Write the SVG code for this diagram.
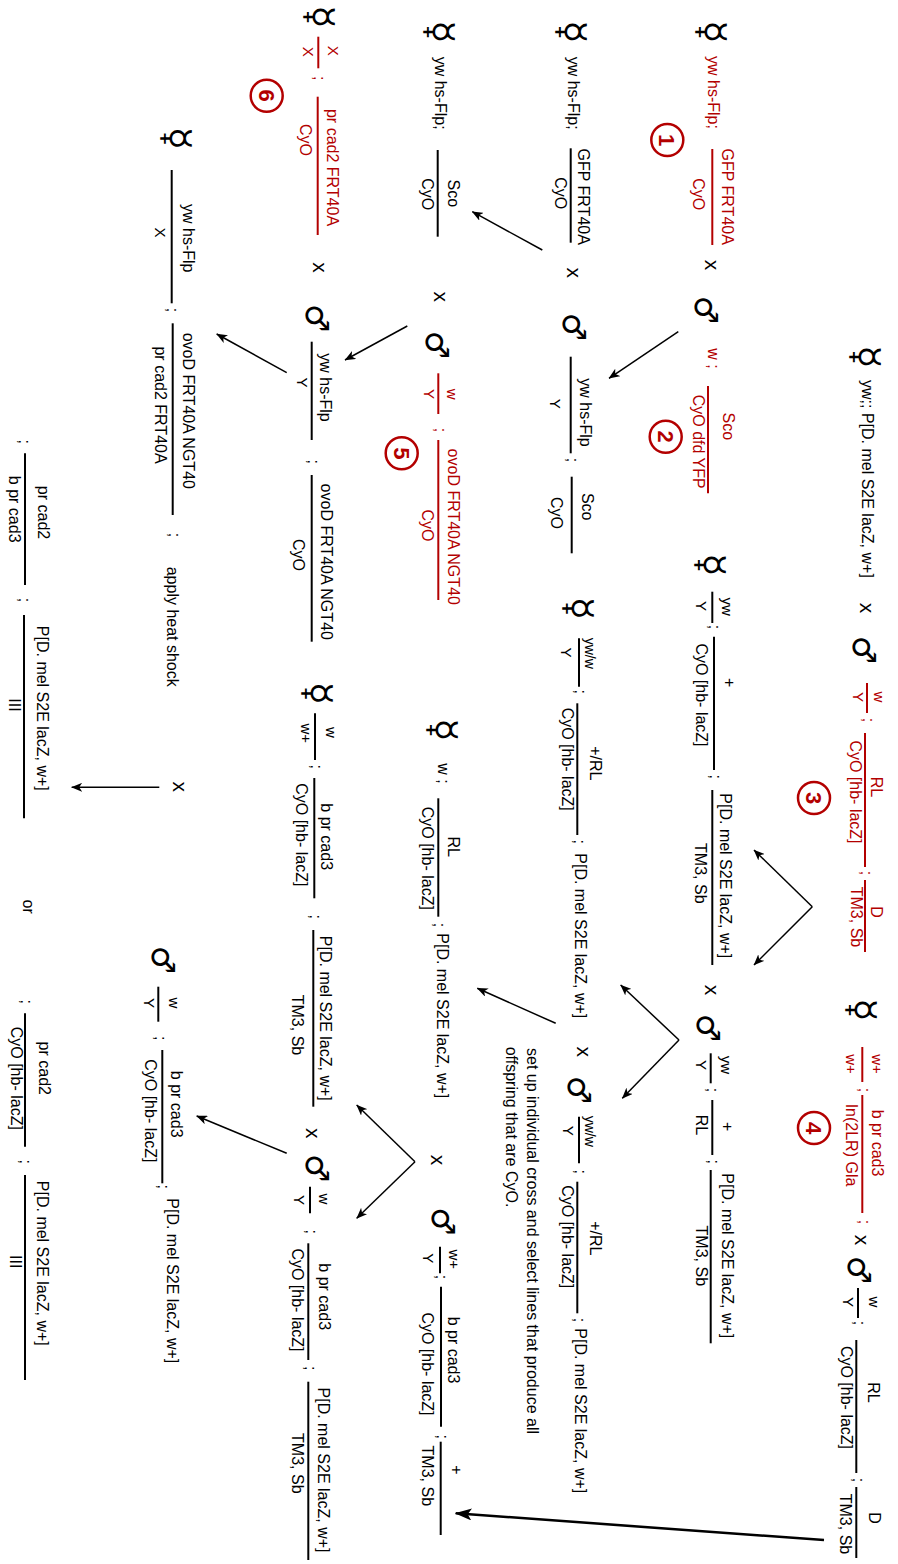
<svg xmlns="http://www.w3.org/2000/svg" width="898" height="1564" viewBox="0 0 898 1564">
<defs>
<style>
text{font-family:"Liberation Sans",Arial,Helvetica,sans-serif;font-size:16px;fill:#000}
.r{fill:#b30000}
.m{text-anchor:middle}
.s{font-size:15px}
.n{font-size:14px}
.x{font-size:21px;text-anchor:middle}
.sy{font-family:"DejaVu Sans",sans-serif;font-size:32px;text-anchor:middle;dominant-baseline:central}
.fe{font-size:38px}
.ln{stroke:#000;stroke-width:2}
.lr{stroke:#b30000;stroke-width:2}
.cr{fill:none;stroke:#b30000;stroke-width:2.5}
.cn{font-size:22px;font-weight:bold;fill:#b30000;text-anchor:middle}
.ar{stroke:#000;stroke-width:1.5;fill:none;marker-end:url(#ah)}
.ab{stroke:#000;stroke-width:2.5;fill:none;marker-end:url(#ahb)}
</style>
<marker id="ah" markerWidth="11" markerHeight="9" refX="10.5" refY="4.5" orient="auto" markerUnits="userSpaceOnUse"><path d="M0,0 L11,4.5 L0,9 L3,4.5 z" fill="#000"/></marker>
<marker id="ahb" markerWidth="17" markerHeight="12" refX="16" refY="6" orient="auto" markerUnits="userSpaceOnUse"><path d="M0,0 L17,6 L0,12 L4,6 z" fill="#000"/></marker>
</defs>
<rect width="898" height="1564" fill="#fff"/>
<g transform="translate(898,0) rotate(90)">

<!-- Row 1 -->
<g id="n1">
<text class="sy fe" x="357" y="32">☿</text>
<text x="380" y="36.5">yw;; P[D. mel S2E lacZ, w+]</text>
</g>
<g id="n2">
<text class="sy" x="650" y="34">♂</text>
<line class="lr" x1="683" y1="31" x2="713" y2="31"/>
<text class="r m s" x="697" y="24">w</text>
<text class="r m s" x="697" y="45">Y</text>
<text class="r m" x="720" y="35">;</text>
<line class="lr" x1="733" y1="33" x2="867" y2="33"/>
<text class="r m" x="787" y="27.5">RL</text>
<text class="r m" x="792" y="48.5">CyO [hb- lacZ]</text>
<text class="r m" x="873" y="37">;</text>
<line class="lr" x1="880" y1="33" x2="952" y2="33"/>
<text class="r m" x="912" y="27.5">D</text>
<text class="r m" x="917" y="47.5">TM3, Sb</text>
<circle class="cr" cx="798" cy="84" r="16"/>
<text class="cn" x="798" y="92">3</text>
</g>
<g id="n3">
<text class="sy fe" x="1010" y="36">☿</text>
<line class="lr" x1="1047" y1="35.7" x2="1082" y2="35.7"/>
<text class="r m s" x="1064" y="26">w+</text>
<text class="r m s" x="1064" y="52">w+</text>
<text class="r m" x="1090" y="39">;</text>
<line class="lr" x1="1095" y1="35.7" x2="1213" y2="35.7"/>
<text class="r m" x="1143" y="26">b pr cad3</text>
<text class="r m" x="1145" y="52.5">In(2LR) Gla</text>
<text class="r m" x="1222" y="39">;</text>
<circle class="cr" cx="1128" cy="84" r="16"/>
<text class="cn" x="1128" y="92">4</text>
</g>
<g id="n4">
<text class="sy" x="1270" y="39">♂</text>
<line class="ln" x1="1288" y1="40" x2="1318" y2="40"/>
<text class="m s" x="1302" y="29">w</text>
<text class="m s" x="1302" y="55">Y</text>
<text class="m" x="1323" y="44">;</text>
<line class="ln" x1="1340" y1="41.7" x2="1473" y2="41.7"/>
<text class="m" x="1392.5" y="30.5">RL</text>
<text class="m" x="1397.5" y="57.5">CyO [hb- lacZ]</text>
<text class="m" x="1480" y="45">;</text>
<line class="ln" x1="1487" y1="41.7" x2="1558" y2="41.7"/>
<text class="m" x="1518" y="29.5">D</text>
<text class="m" x="1524" y="58.5">TM3, Sb</text>
</g>

<!-- Row 2 -->
<g id="n5">
<text class="sy fe" x="32" y="186">☿</text>
<text class="r" x="56" y="190">yw hs-Flp;</text>
<line class="lr" x1="149" y1="185.7" x2="245" y2="185.7"/>
<text class="r m" x="196.7" y="176.5">GFP FRT40A</text>
<text class="r m" x="194.2" y="205.5">CyO</text>
<circle class="cr" cx="140" cy="230.7" r="16"/>
<text class="cn" x="140" y="238.7">1</text>
</g>
<g id="n6">
<text class="sy" x="310" y="192">♂</text>
<text class="r" x="348.3" y="190.5">w ;</text>
<line class="lr" x1="386" y1="190" x2="493.3" y2="190"/>
<text class="r m" x="426.3" y="175.5">Sco</text>
<text class="r m" x="441.7" y="205.5">CyO dfd YFP</text>
<circle class="cr" cx="436.7" cy="232.3" r="16"/>
<text class="cn" x="436.7" y="240.3">2</text>
</g>
<g id="n7">
<text class="sy fe" x="565" y="187">☿</text>
<line class="ln" x1="591.7" y1="185.7" x2="623" y2="185.7"/>
<text class="m s" x="606.7" y="176">yw</text>
<text class="m s" x="606" y="201.7">Y</text>
<text class="m" x="627" y="189">;</text>
<line class="ln" x1="636.7" y1="184" x2="770" y2="184"/>
<text class="m" x="682.7" y="174">+</text>
<text class="m" x="695" y="202.5">CyO [hb- lacZ]</text>
<text class="m" x="776.7" y="188">;</text>
<line class="ln" x1="790" y1="185.7" x2="965" y2="185.7"/>
<text class="m" x="875.8" y="178.5">P[D. mel S2E lacZ, w+]</text>
<text class="m" x="873.3" y="203.5">TM3, Sb</text>
</g>
<g id="n8">
<text class="sy" x="1028" y="190">♂</text>
<line class="ln" x1="1053.3" y1="187.3" x2="1083.3" y2="187.3"/>
<text class="m s" x="1065" y="177">yw</text>
<text class="m s" x="1065" y="202">Y</text>
<text class="m" x="1090" y="191">;</text>
<line class="ln" x1="1100" y1="185.7" x2="1155" y2="185.7"/>
<text class="m" x="1126.7" y="176">+</text>
<text class="m" x="1125" y="202.5">RL</text>
<text class="m" x="1161.7" y="190">;</text>
<line class="ln" x1="1170" y1="187.3" x2="1343.3" y2="187.3"/>
<text class="m" x="1255.8" y="176">P[D. mel S2E lacZ, w+]</text>
<text class="m" x="1255.8" y="202.5">TM3, Sb</text>
</g>

<!-- Row 3 -->
<g id="n9">
<text class="sy fe" x="32" y="326">☿</text>
<text x="56.7" y="330.5">yw hs-Flp;</text>
<line class="ln" x1="148.3" y1="327.3" x2="242.7" y2="327.3"/>
<text class="m" x="196.7" y="320.5">GFP FRT40A</text>
<text class="m" x="193.3" y="343.5">CyO</text>
</g>
<g id="n10">
<text class="sy" x="327" y="324">♂</text>
<line class="ln" x1="356.7" y1="327.3" x2="453.3" y2="327.3"/>
<text class="m" x="412.5" y="318">yw hs-Flp</text>
<text class="m s" x="403.8" y="348">Y</text>
<text class="m" x="460" y="331">;</text>
<line class="ln" x1="476.7" y1="326.3" x2="553.3" y2="326.3"/>
<text class="m" x="506.7" y="316">Sco</text>
<text class="m" x="513" y="347">CyO</text>
</g>
<g id="n11">
<text class="sy fe" x="608.3" y="319">☿</text>
<line class="ln" x1="638.3" y1="319" x2="686.7" y2="319"/>
<text class="m n" x="653.3" y="312.7">yw/w</text>
<text class="m s" x="652.5" y="336.7">Y</text>
<text class="m" x="691.7" y="323">;</text>
<line class="ln" x1="703.3" y1="320.7" x2="835" y2="320.7"/>
<text class="m" x="763.3" y="308">+/RL</text>
<text class="m" x="759.2" y="336.5">CyO [hb- lacZ]</text>
<text class="m" x="841.7" y="324">;</text>
<text x="853.3" y="323.5">P[D. mel S2E lacZ, w+]</text>
</g>
<g id="n12">
<text class="sy" x="1090" y="319">♂</text>
<line class="ln" x1="1116.7" y1="319" x2="1163.3" y2="319"/>
<text class="m n" x="1131.2" y="312.7">yw/w</text>
<text class="m s" x="1130.8" y="335.5">Y</text>
<text class="m" x="1171.7" y="323">;</text>
<line class="ln" x1="1181.7" y1="320.7" x2="1313.3" y2="320.7"/>
<text class="m" x="1238.3" y="308">+/RL</text>
<text class="m" x="1236.7" y="336.5">CyO [hb- lacZ]</text>
<text class="m" x="1320" y="324">;</text>
<text x="1328.3" y="323.5">P[D. mel S2E lacZ, w+]</text>
</g>
<g id="note">
<text x="1048" y="370.8">set up individual cross and select lines that produce all</text>
<text x="1046.7" y="392.4">offspring that are CyO.</text>
</g>

<!-- Row 4 -->
<g id="n13">
<text class="sy fe" x="32" y="458">☿</text>
<text x="56.7" y="463">yw hs-Flp;</text>
<line class="ln" x1="150" y1="460.3" x2="236.7" y2="460.3"/>
<text class="m" x="193.3" y="450">Sco</text>
<text class="m" x="194.2" y="476.5">CyO</text>
</g>
<g id="n14">
<text class="sy" x="345" y="461">♂</text>
<line class="lr" x1="373.3" y1="459.7" x2="414" y2="459.7"/>
<text class="r m s" x="394.2" y="451">w</text>
<text class="r m s" x="394" y="474">Y</text>
<text class="r m" x="430" y="463">;</text>
<line class="lr" x1="440" y1="459.7" x2="600" y2="459.7"/>
<text class="r m" x="526.7" y="450">ovoD FRT40A NGT40</text>
<text class="r m" x="525.5" y="476.5">CyO</text>
<circle class="cr" cx="453.3" cy="496.3" r="16"/>
<text class="cn" x="453.3" y="504.3">5</text>
</g>
<g id="n15">
<text class="sy fe" x="730" y="455">☿</text>
<text x="763.3" y="460">w ;</text>
<line class="ln" x1="798.3" y1="459.7" x2="916.7" y2="459.7"/>
<text class="m" x="846.7" y="450">RL</text>
<text class="m" x="858.3" y="476.5">CyO [hb- lacZ]</text>
<text class="m" x="925" y="464">;</text>
<text x="933.3" y="461.5">P[D. mel S2E lacZ, w+]</text>
</g>
<g id="n16">
<text class="sy" x="1221.7" y="455">♂</text>
<line class="ln" x1="1246.7" y1="458" x2="1273.3" y2="458"/>
<text class="m s" x="1259.2" y="449">w+</text>
<text class="m s" x="1258.3" y="475">Y</text>
<text class="m" x="1277" y="462">;</text>
<line class="ln" x1="1286.7" y1="457" x2="1426.7" y2="457"/>
<text class="m" x="1350" y="450">b pr cad3</text>
<text class="m" x="1364" y="476.5">CyO [hb- lacZ]</text>
<text class="m" x="1436.7" y="461">;</text>
<line class="ln" x1="1441.7" y1="457.3" x2="1535" y2="457.3"/>
<text class="m" x="1470" y="447">+</text>
<text class="m" x="1475.8" y="476.5">TM3, Sb</text>
</g>

<!-- Row 5 -->
<g id="n17">
<text class="sy fe" x="17" y="578">☿</text>
<line class="lr" x1="36.7" y1="579.7" x2="68.3" y2="579.7"/>
<text class="r m s" x="50.8" y="570">X</text>
<text class="r m s" x="51.7" y="595.4">X</text>
<text class="r m" x="78.3" y="584">;</text>
<line class="lr" x1="96.7" y1="580.3" x2="235" y2="580.3"/>
<text class="r m" x="167.5" y="571.5">pr cad2 FRT40A</text>
<text class="r m" x="140" y="597.8">CyO</text>
<circle class="cr" cx="95.7" cy="631.3" r="16"/>
<text class="cn" x="95.7" y="639.3">6</text>
</g>
<g id="n18">
<text class="sy" x="318.3" y="581">♂</text>
<line class="ln" x1="341.7" y1="586.3" x2="440" y2="586.3"/>
<text class="m" x="387.5" y="578">yw hs-Flp</text>
<text class="m s" x="382.5" y="601">Y</text>
<text class="m" x="461.7" y="590">;</text>
<line class="ln" x1="475" y1="586.3" x2="641.7" y2="586.3"/>
<text class="m" x="561.7" y="577">ovoD FRT40A NGT40</text>
<text class="m" x="555" y="605">CyO</text>
</g>
<g id="n19">
<text class="sy fe" x="693.3" y="580">☿</text>
<line class="ln" x1="713.3" y1="583" x2="760" y2="583"/>
<text class="m s" x="732.5" y="572">w</text>
<text class="m s" x="733.3" y="597">w+</text>
<text class="m" x="766.7" y="587">;</text>
<line class="ln" x1="778" y1="583.7" x2="898.3" y2="583.7"/>
<text class="m" x="836.7" y="577.5">b pr cad3</text>
<text class="m" x="834.8" y="602.5">CyO [hb- lacZ]</text>
<text class="m" x="916.7" y="588">;</text>
<line class="ln" x1="930" y1="584.7" x2="1106.7" y2="584.7"/>
<text class="m" x="1018.3" y="578.5">P[D. mel S2E lacZ, w+]</text>
<text class="m" x="1025" y="606">TM3, Sb</text>
</g>
<g id="n20">
<text class="sy" x="1168.3" y="581">♂</text>
<line class="ln" x1="1186.7" y1="588" x2="1213.3" y2="588"/>
<text class="m s" x="1199" y="579">w</text>
<text class="m s" x="1200" y="604.5">Y</text>
<text class="m" x="1231.7" y="592">;</text>
<line class="ln" x1="1243.3" y1="589.7" x2="1360" y2="589.7"/>
<text class="m" x="1296.7" y="579">b pr cad3</text>
<text class="m" x="1300" y="606.2">CyO [hb- lacZ]</text>
<text class="m" x="1368.3" y="593">;</text>
<line class="ln" x1="1381.7" y1="589.7" x2="1560" y2="589.7"/>
<text class="m" x="1470" y="580">P[D. mel S2E lacZ, w+]</text>
<text class="m" x="1463.3" y="606.2">TM3, Sb</text>
</g>

<!-- Row 6 -->
<g id="n21">
<text class="sy fe" x="138.3" y="721">☿</text>
<line class="ln" x1="170" y1="726.3" x2="303.3" y2="726.3"/>
<text class="m" x="238.3" y="715.5">yw hs-Flp</text>
<text class="m s" x="232.5" y="743">X</text>
<text class="m" x="310" y="731">;</text>
<line class="ln" x1="323.3" y1="725.3" x2="515" y2="725.3"/>
<text class="m" x="410.8" y="715.5">ovoD FRT40A NGT40</text>
<text class="m" x="405" y="742.8">pr cad2 FRT40A</text>
<text class="m" x="535" y="729">;</text>
<text x="566.7" y="731.2">apply heat shock</text>
</g>
<g id="n22">
<text class="sy" x="960" y="735">♂</text>
<line class="ln" x1="986.7" y1="739.7" x2="1021.7" y2="739.7"/>
<text class="m s" x="1003" y="729">w</text>
<text class="m s" x="1003" y="754">Y</text>
<text class="m" x="1038.3" y="743">;</text>
<line class="ln" x1="1050" y1="735.7" x2="1183.3" y2="735.7"/>
<text class="m" x="1104.2" y="727">b pr cad3</text>
<text class="m" x="1110.8" y="752.8">CyO [hb- lacZ]</text>
<text class="m" x="1186.7" y="740">;</text>
<text x="1198.3" y="731.2">P[D. mel S2E lacZ, w+]</text>
</g>

<!-- Row 7 -->
<g id="n23">
<text class="m" x="441.7" y="879">;</text>
<line class="ln" x1="453.3" y1="873" x2="585" y2="873"/>
<text class="m" x="512.5" y="860">pr cad2</text>
<text class="m" x="509.2" y="889.5">b pr cad3</text>
<text class="m" x="600" y="879">;</text>
<line class="ln" x1="615" y1="874" x2="818.3" y2="874"/>
<text class="m" x="708.3" y="861.5">P[D. mel S2E lacZ, w+]</text>
<text class="m" x="705" y="889.5">III</text>
</g>
<text id="or" class="m" x="906.7" y="875.5">or</text>
<g id="n24">
<text class="m" x="1001.7" y="877">;</text>
<line class="ln" x1="1013.3" y1="873" x2="1146.7" y2="873"/>
<text class="m" x="1068.3" y="859">pr cad2</text>
<text class="m" x="1078.3" y="887">CyO [hb- lacZ]</text>
<text class="m" x="1161.7" y="878">;</text>
<line class="ln" x1="1175" y1="873" x2="1380" y2="873"/>
<text class="m" x="1263.3" y="861.5">P[D. mel S2E lacZ, w+]</text>
<text class="m" x="1261.7" y="888">III</text>
</g>

<!-- crosses -->
<g id="crosses">
<text class="x" x="608" y="38">x</text>
<text class="x" x="1240" y="43">x</text>
<text class="x" x="265" y="193">x</text>
<text class="x" x="990" y="193">x</text>
<text class="x" x="272.7" y="331.5">x</text>
<text class="x" x="1051.7" y="321.5">x</text>
<text class="x" x="296.7" y="463.7">x</text>
<text class="x" x="1160" y="467">x</text>
<text class="x" x="267.5" y="585.5">x</text>
<text class="x" x="1133.3" y="592">x</text>
<text class="x" x="786.7" y="725.4">x</text>
</g>

<!-- connectors -->
<g id="connectors">
<line class="ab" x1="1540" y1="74" x2="1513.3" y2="442.3"/>
<line class="ar" x1="906.7" y1="85.7" x2="850" y2="144"/>
<line class="ar" x1="906.7" y1="85.7" x2="965" y2="144"/>
<line class="ar" x1="1040" y1="219" x2="985" y2="277.3"/>
<line class="ar" x1="1040" y1="219" x2="1098.3" y2="275.7"/>
<line class="ar" x1="331.7" y1="219.7" x2="378.3" y2="289"/>
<line class="ar" x1="250" y1="355.7" x2="211.7" y2="425.7"/>
<line class="ar" x1="1023.3" y1="342.3" x2="988.3" y2="420.7"/>
<line class="ar" x1="326" y1="490.7" x2="360" y2="553"/>
<line class="ar" x1="1161.7" y1="483" x2="1105" y2="541.3"/>
<line class="ar" x1="1161.7" y1="483" x2="1218.3" y2="541.3"/>
<line class="ar" x1="372.7" y1="611.3" x2="334" y2="681.3"/>
<line class="ar" x1="1153.3" y1="611.3" x2="1116" y2="701.3"/>
<line class="ar" x1="787.3" y1="738.7" x2="787.3" y2="826.3"/>
</g>
</g>
</svg>
